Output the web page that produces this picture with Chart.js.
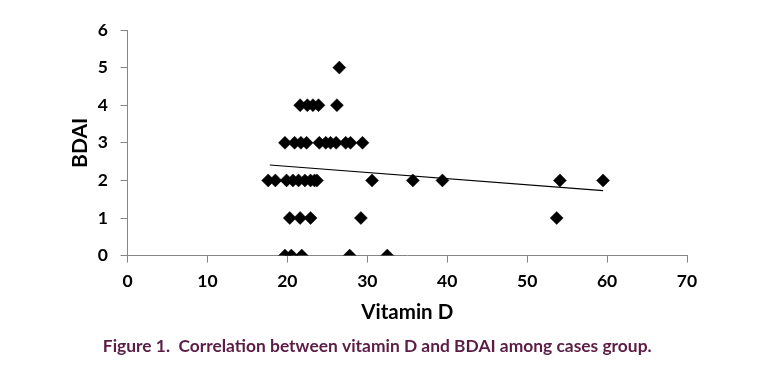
<!DOCTYPE html>
<html>
<head>
<meta charset="utf-8">
<script src="https://cdn.jsdelivr.net/npm/chart.js@4.4.1/dist/chart.umd.min.js"></script>
<style>
  html, body { margin: 0; padding: 0; background: #fff; }
  #wrap { width: 758px; height: 370px; }
</style>
</head>
<body>
<div id="wrap"><canvas id="chart" width="758" height="370"></canvas></div>
<script>
// Vitamin D (x) against BDAI (y)
const vitaminD = [
    19.7, 20.5, 21.8, 27.8, 32.5,
    20.3, 21.6, 22.9, 29.2, 53.7,
    17.6, 18.5, 19.9, 20.7, 21.4, 22.2, 22.9, 23.4, 23.7, 30.6, 35.7, 39.4, 54.1, 59.5,
    19.7, 20.9, 21.7, 22.4, 24.0, 24.8, 25.4, 26.1, 27.3, 27.9, 29.4,
    21.6, 22.5, 23.2, 23.9, 26.2,
    26.5
];
const bdai = [
    0, 0, 0, 0, 0,
    1, 1, 1, 1, 1,
    2, 2, 2, 2, 2, 2, 2, 2, 2, 2, 2, 2, 2, 2,
    3, 3, 3, 3, 3, 3, 3, 3, 3, 3, 3,
    4, 4, 4, 4, 4,
    5
];
// linear trend line end points
const trendX = [17.8, 59.5];
const trendY = [2.41, 1.73];

const xTicks = [0, 10, 20, 30, 40, 50, 60, 70];
const yTicks = [0, 1, 2, 3, 4, 5, 6];

const axisGrey = '#868686';
const tickFont = { family: 'Lato', size: 17.5, weight: 'bold' };

new Chart(document.getElementById('chart'), {
    type: 'scatter',
    data: {
        datasets: [
            {
                label: 'BDAI',
                data: vitaminD.map((v, i) => ({ x: v, y: bdai[i] })),
                pointStyle: 'rectRot',
                pointRadius: 6.5,
                pointBackgroundColor: '#000',
                pointBorderColor: '#000',
                pointBorderWidth: 0.5,
                order: 1,
            },
            {
                type: 'line',
                label: 'Linear',
                data: trendX.map((v, i) => ({ x: v, y: trendY[i] })),
                borderColor: '#000',
                borderWidth: 1.2,
                pointRadius: 0,
                fill: false,
                order: 2,
            },
        ],
    },
    options: {
        responsive: false,
        animation: false,
        layout: { padding: { left: 67.5, right: 71, top: 30, bottom: 13 } },
        plugins: {
            legend: { display: false },
            tooltip: { enabled: false },
            title: {
                display: true,
                position: 'bottom',
                text: 'Figure 1.  Correlation between vitamin D and BDAI among cases group.',
                color: '#5b1c45',
                font: { family: 'Lato', size: 17.4, weight: 'bold', lineHeight: 1.2 },
                padding: { top: 0, bottom: 0 },
            },
        },
        scales: {
            x: {
                type: 'linear',
                min: 0,
                max: 70,
                afterBuildTicks: (s) => { s.ticks = xTicks.map((v) => ({ value: v })); },
                afterFit: (s) => { s.height = 80.5; },
                ticks: { color: '#000', font: tickFont, padding: 8.5, maxRotation: 0 },
                grid: { display: true, drawOnChartArea: false, drawTicks: true, tickLength: 7, color: axisGrey, lineWidth: 1 },
                border: { display: true, color: axisGrey, width: 1 },
                title: {
                    display: true,
                    text: 'Vitamin D',
                    color: '#000',
                    font: { family: 'Lato', size: 20.5, weight: 'bold', lineHeight: 1.2 },
                    padding: { top: 0, bottom: 11.5 },
                },
            },
            y: {
                type: 'linear',
                min: 0,
                max: 6,
                afterBuildTicks: (s) => { s.ticks = yTicks.map((v) => ({ value: v })); },
                afterFit: (s) => { s.width = 60; },
                ticks: { color: '#000', font: tickFont, padding: 12.5 },
                grid: { display: true, drawOnChartArea: false, drawTicks: true, tickLength: 7, color: axisGrey, lineWidth: 1 },
                border: { display: true, color: axisGrey, width: 1 },
                title: {
                    display: true,
                    text: 'BDAI',
                    color: '#000',
                    font: { family: 'Lato', size: 21, weight: 'bold', lineHeight: 1.2 },
                    padding: { top: 0, bottom: 0 },
                },
            },
        },
    },
});
</script>
</body>
</html>
